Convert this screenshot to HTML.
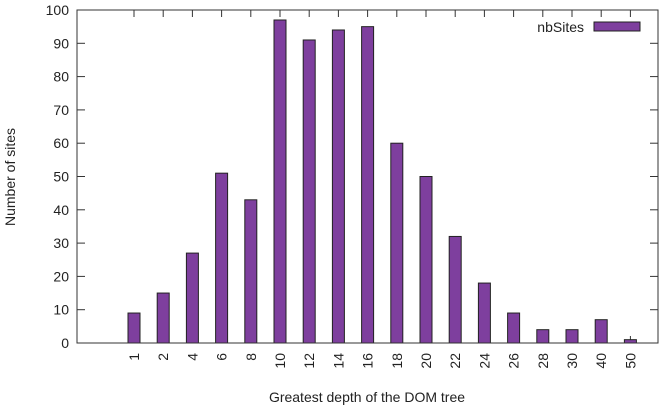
<!DOCTYPE html>
<html><head><meta charset="utf-8"><style>
body{margin:0;background:#fff}
svg{display:block;font-family:"Liberation Sans","DejaVu Sans",sans-serif}
</style></head><body>
<svg id="c" width="663" height="407"></svg>
<script>
const categories=["1","2","4","6","8","10","12","14","16","18","20","22","24","26","28","30","40","50"];
const nbSites=[9,15,27,51,43,97,91,94,95,60,50,32,18,9,4,4,7,1];
const yTicks=[0,10,20,30,40,50,60,70,80,90,100];
const L=77,R=658,T=10,B=343;
const ns="http://www.w3.org/2000/svg";
const svg=document.getElementById('c');
function xPos(i){return 134+i*29.2;}
function yPos(v){return B-(v/100)*(B-T);}
function mk(tag,attrs,parent){const e=document.createElementNS(ns,tag);for(const k in attrs)e.setAttribute(k,attrs[k]);(parent||svg).appendChild(e);return e;}
yTicks.forEach(t=>{
  const y=yPos(t);
  const l=mk('line',{x1:L,x2:L+8,y1:y,y2:y,stroke:'#333'});
  
  
  const r=mk('line',{x1:R-8,x2:R,y1:y,y2:y,stroke:'#333'});
  
  
  const tx=mk('text',{x:L-8,y:y+5,'text-anchor':'end','font-size':14,fill:'#222'});
  tx.textContent=t;
  
  
});
categories.forEach((c,i)=>{
  const x=xPos(i);
  const b=mk('line',{x1:x,x2:x,y1:B,y2:B-7,stroke:'#333'});
  
  
  const t=mk('line',{x1:x,x2:x,y1:T,y2:T+7,stroke:'#333'});
  
  
  const y0=yPos(nbSites[i]);
  const r=mk('rect',{x:x-6,y:y0,width:12,height:B-y0,fill:'#7e3f9e',stroke:'#222','stroke-width':1});
  
  
  const tx=mk('text',{transform:`translate(${x+5},353) rotate(-90)`,'text-anchor':'end','font-size':14,fill:'#222'});
  tx.textContent=c;
  
  
});
const frame=mk('rect',{x:L,y:T,width:R-L,height:B-T,fill:'none',stroke:'#333'});


const yt=mk('text',{transform:'translate(15,177) rotate(-90)','text-anchor':'middle','font-size':14,fill:'#222'});
yt.textContent='Number of sites';


const xt=mk('text',{x:367,y:402,'text-anchor':'middle','font-size':14,fill:'#222'});
xt.textContent='Greatest depth of the DOM tree';


const lt=mk('text',{x:584,y:32,'text-anchor':'end','font-size':14,fill:'#222'});
lt.textContent='nbSites';


const ls=mk('rect',{x:594,y:22,width:46,height:9,fill:'#7e3f9e',stroke:'#222'});


</script>
</body></html>
